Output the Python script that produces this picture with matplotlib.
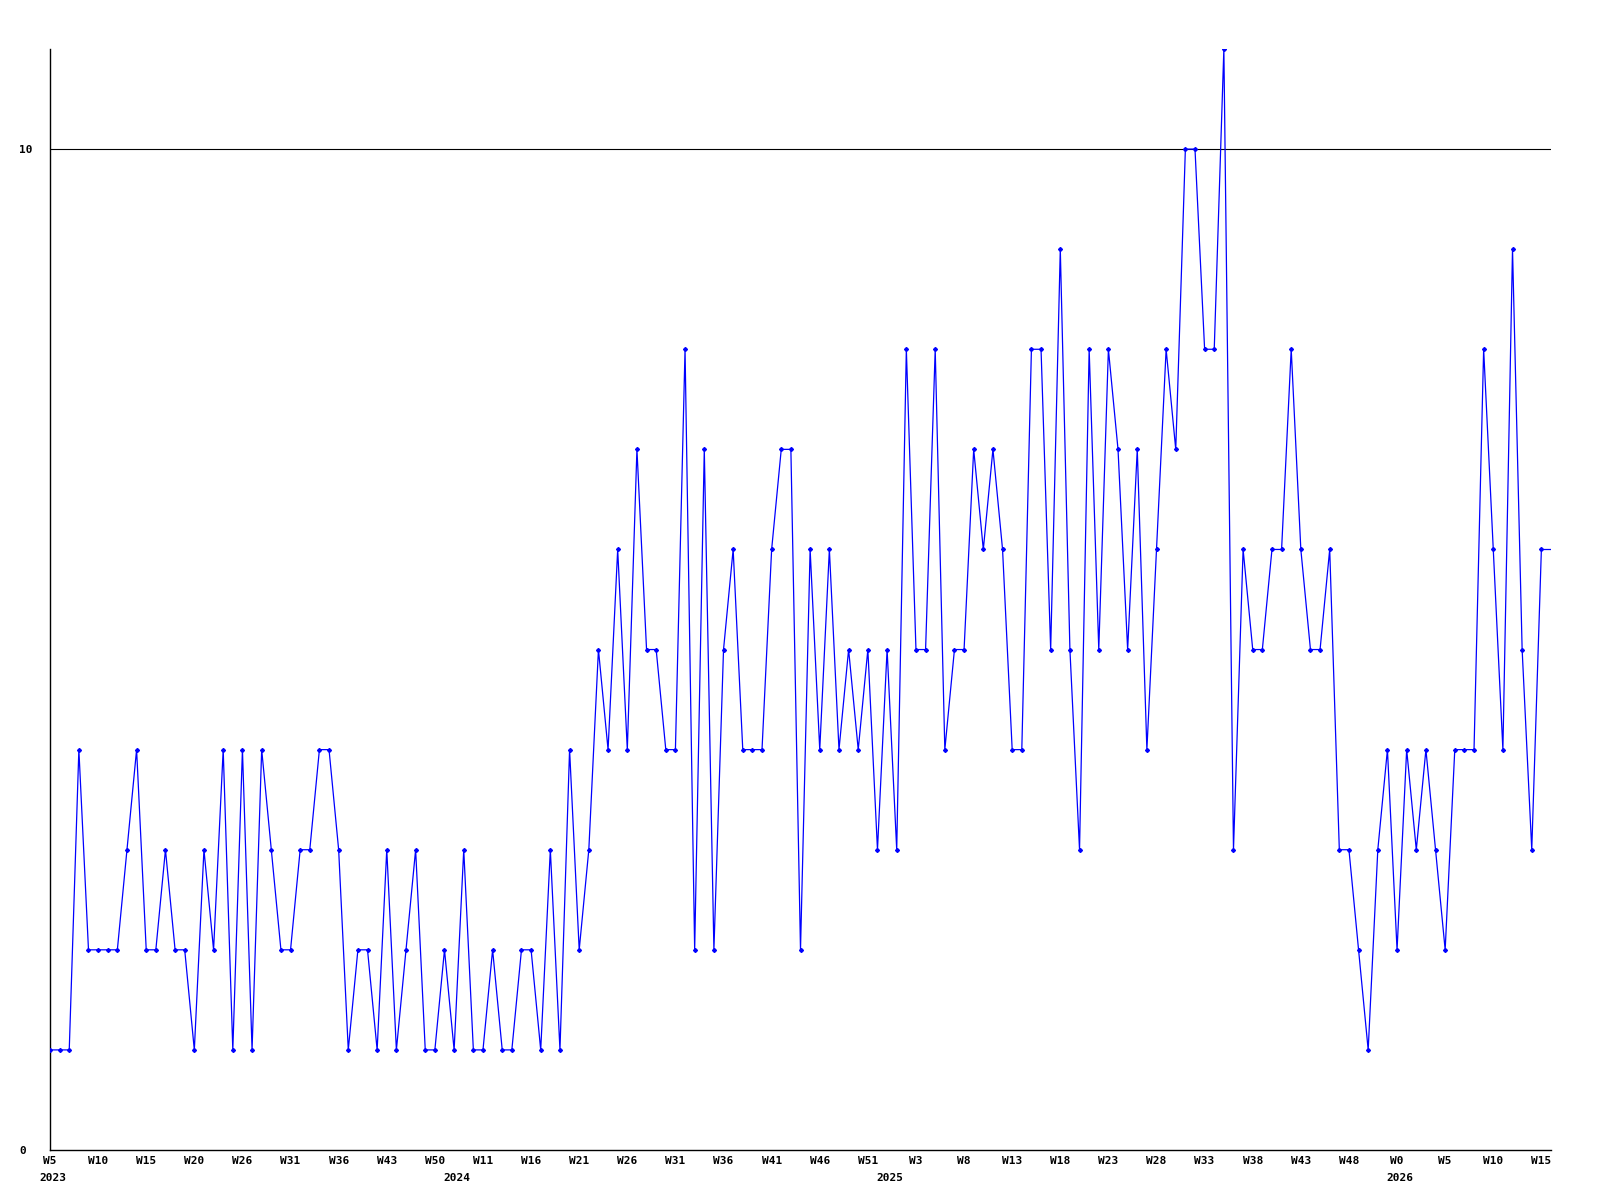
import matplotlib
matplotlib.use("Agg")
import matplotlib.pyplot as plt
import matplotlib.transforms as mtransforms

# weekly counts, 2023 W5 .. 2026 W15
values = [1, 1, 1, 4, 2, 2, 2, 2, 3, 4, 2, 2, 3, 2, 2, 1, 3, 2, 4, 1,
          4, 1, 4, 3, 2, 2, 3, 3, 4, 4, 3, 1, 2, 2, 1, 3, 1, 2, 3, 1,
          1, 2, 1, 3, 1, 1, 2, 1, 1, 2, 2, 1, 3, 1, 4, 2, 3, 5, 4, 6,
          4, 7, 5, 5, 4, 4, 8, 2, 7, 2, 5, 6, 4, 4, 4, 6, 7, 7, 2, 6,
          4, 6, 4, 5, 4, 5, 3, 5, 3, 8, 5, 5, 8, 4, 5, 5, 7, 6, 7, 6,
          4, 4, 8, 8, 5, 9, 5, 3, 8, 5, 8, 7, 5, 7, 4, 6, 8, 7, 10, 10,
          8, 8, 11, 3, 6, 5, 5, 6, 6, 8, 6, 5, 5, 6, 3, 3, 2, 1, 3, 4,
          2, 4, 3, 4, 3, 2, 4, 4, 4, 8, 6, 4, 9, 5, 3, 6]

week_labels = ["W5", "W10", "W15", "W20", "W26", "W31", "W36", "W43", "W50",
               "W11", "W16", "W21", "W26", "W31", "W36", "W41", "W46", "W51",
               "W3", "W8", "W13", "W18", "W23", "W28", "W33", "W38", "W43",
               "W48", "W0", "W5", "W10", "W15"]
label_step = 5

years = ["2023", "2024", "2025", "2026"]
year_start = [0, 42, 87, 140]

font = {"family": "DejaVu Sans Mono", "weight": "bold", "size": 8}

fig = plt.figure(figsize=(16, 12), dpi=100)
ax = fig.add_axes([50 / 1600, 50 / 1200, 1501 / 1600, 1101 / 1200])

x = list(range(len(values)))
x_end = len(values)

ax.axhline(10, color="black", lw=0.8, zorder=1)
ax.plot(x, values, color="#0000ff", lw=0.9, marker="D", markersize=2.0, zorder=3)
# the line runs on flat to the right edge
ax.plot([x[-1], x_end], [values[-1], values[-1]], color="#0000ff", lw=0.9, zorder=3)

ax.set_xlim(0, x_end)
ax.set_ylim(0, 11)

for side in ["top", "right"]:
    ax.spines[side].set_visible(False)
for side in ["left", "bottom"]:
    ax.spines[side].set_linewidth(1.0)
    ax.spines[side].set_color("black")

ax.set_yticks([0, 10])
ax.set_yticklabels(["0", "10"], fontdict=font)
ax.tick_params(axis="y", length=0, pad=22)
for lab in ax.get_yticklabels():
    lab.set_horizontalalignment("left")

ticks = [i * label_step for i in range(len(week_labels))]
ax.set_xticks(ticks)
ax.set_xticklabels(week_labels, fontdict=font)
ax.tick_params(axis="x", length=0, pad=4)

trans = mtransforms.blended_transform_factory(ax.transData, ax.transAxes)
offset = mtransforms.ScaledTranslation(0, -16.5 / 72, fig.dpi_scale_trans)
for yr, pos in zip(years, year_start):
    ax.text(pos + 0.3, 0, yr, transform=trans + offset, ha="center", va="top",
            fontdict=font)

fig.savefig("out.png", dpi=100, facecolor="white")
